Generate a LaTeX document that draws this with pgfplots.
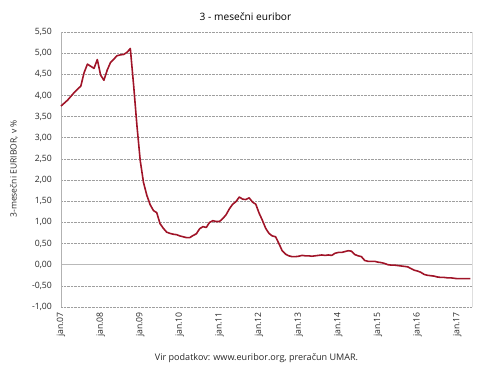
\documentclass[border=0pt]{standalone}
\usepackage{fontspec}
\setmainfont{Open Sans}
\usepackage{pgfplots}
\usepackage{pgfplotstable}
\pgfplotsset{compat=1.18}
\definecolor{lineRed}{RGB}{160,20,40}
\definecolor{txt}{RGB}{40,40,40}
\pgfplotstableread{
m v
0 3.75
1 3.82
2 3.89
3 3.98
4 4.07
5 4.15
6 4.22
7 4.54
8 4.74
9 4.69
10 4.64
11 4.85
12 4.48
13 4.36
14 4.60
15 4.78
16 4.86
17 4.94
18 4.96
19 4.97
20 5.02
21 5.11
22 4.24
23 3.29
24 2.46
25 1.94
26 1.64
27 1.42
28 1.28
29 1.23
30 0.97
31 0.86
32 0.77
33 0.74
34 0.72
35 0.71
36 0.68
37 0.66
38 0.64
39 0.64
40 0.69
41 0.73
42 0.85
43 0.90
44 0.88
45 1.00
46 1.04
47 1.02
48 1.02
49 1.09
50 1.18
51 1.32
52 1.43
53 1.49
54 1.60
55 1.55
56 1.54
57 1.58
58 1.48
59 1.43
60 1.22
61 1.05
62 0.86
63 0.74
64 0.68
65 0.66
66 0.50
67 0.33
68 0.25
69 0.21
70 0.19
71 0.19
72 0.20
73 0.22
74 0.21
75 0.21
76 0.20
77 0.21
78 0.22
79 0.23
80 0.22
81 0.23
82 0.22
83 0.27
84 0.29
85 0.29
86 0.31
87 0.33
88 0.32
89 0.24
90 0.21
91 0.19
92 0.10
93 0.08
94 0.08
95 0.08
96 0.06
97 0.05
98 0.03
99 0.00
100 -0.01
101 -0.01
102 -0.02
103 -0.03
104 -0.04
105 -0.05
106 -0.09
107 -0.13
108 -0.15
109 -0.18
110 -0.23
111 -0.25
112 -0.26
113 -0.27
114 -0.29
115 -0.30
116 -0.30
117 -0.31
118 -0.31
119 -0.32
120 -0.33
121 -0.33
122 -0.33
123 -0.33
124 -0.33
}\euribor
\begin{document}
\begin{tikzpicture}[x=1bp,y=1bp]
\path (0,0) rectangle (490,378);
\node[font=\fontsize{10.2}{12}\selectfont, text=black] at (245.5,361) {3 - mesečni euribor};
\node[font=\fontsize{9.1}{11}\selectfont, text=txt] at (256.5,20) {Vir podatkov: www.euribor.org, preračun UMAR.};
\node[font=\fontsize{8.6}{11}\selectfont, text=txt, rotate=90] at (14,209) {3-mesečni EURIBOR, v \%};
\begin{axis}[
  at={(61bp,71bp)}, anchor=south west,
  scale only axis, width=411bp, height=275bp,
  xmin=0, xmax=124.5, ymin=-1, ymax=5.5,
  ytick={-1,-0.5,0,0.5,1,1.5,2,2.5,3,3.5,4,4.5,5,5.5},
  xtick={0,12,24,36,48,60,72,84,96,108,120},
  xticklabels={jan.07,jan.08,jan.09,jan.10,jan.11,jan.12,jan.13,jan.14,jan.15,jan.16,jan.17},
  /pgf/number format/.cd, fixed, fixed zerofill, precision=2, use comma, assume math mode=true,
  /pgfplots/.cd,
  major tick length=0pt,
  axis line style={draw=none},
  ymajorgrids,
  grid style={densely dotted, color=gray!75, line width=0.6pt},
  extra y ticks={0},
  extra y tick labels={},
  extra y tick style={grid style={solid, color=gray!55, line width=0.8pt}},
  yticklabel style={font=\fontsize{8.7}{11}\selectfont, text=txt, inner sep=0pt, xshift=-9bp},
  xticklabel style={font=\fontsize{8.7}{11}\selectfont, text=txt, rotate=90, anchor=east, inner ysep=0pt, inner xsep=5bp},
  clip=false,
]
\draw[gray!60, line width=0.8pt] (rel axis cs:0,0) -- (rel axis cs:0,1);
\draw[gray!25, line width=1pt] (rel axis cs:1,0) -- (rel axis cs:1,1);
\addplot[lineRed, line width=1.6pt, mark=none, line join=round] table[x=m,y=v] {\euribor};
\end{axis}
\end{tikzpicture}
\end{document}
